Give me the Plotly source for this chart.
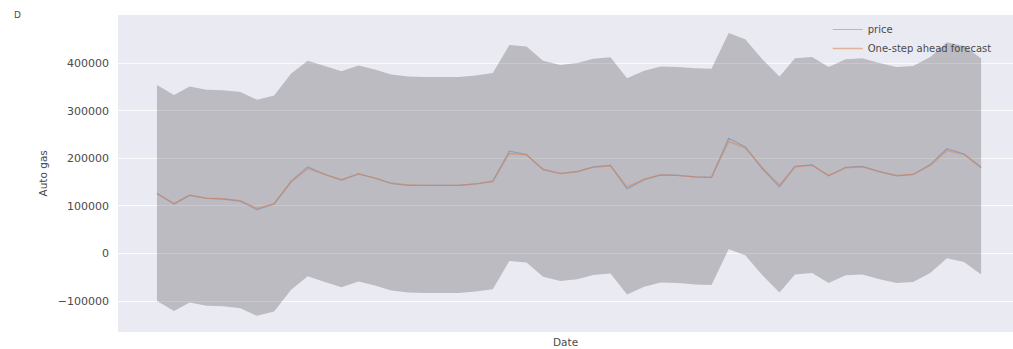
import pandas as pd
import plotly.graph_objects as go

# Monthly observation dates (axis labels are not shown)
dates = pd.date_range("2014-01-01", periods=50, freq="MS")

# One-step ahead forecast (predicted mean)
forecast = [126000, 105000, 123000, 116000, 115000, 111000, 95000, 104000, 150000, 178000,
            166000, 155000, 167000, 158000, 148000, 144000, 143000, 143000, 143000, 146000,
            151000, 210000, 207000, 177000, 168000, 172000, 181000, 184000, 140000, 156000,
            165000, 164000, 161000, 160000, 235000, 222000, 180000, 144000, 182000, 185000,
            164000, 180000, 182000, 172000, 164000, 166000, 185000, 216000, 208000, 182000]

# Observed price
price = [126000, 104000, 122000, 116000, 114000, 110000, 92000, 104000, 152000, 182000,
         166000, 154000, 167000, 158000, 147000, 143000, 143000, 143000, 143000, 146000,
         152000, 215000, 208000, 176000, 168000, 172000, 182000, 185000, 136000, 155000,
         165000, 164000, 161000, 160000, 242000, 224000, 178000, 140000, 183000, 186000,
         163000, 181000, 183000, 172000, 163000, 166000, 187000, 220000, 209000, 180000]

# Confidence interval bounds
ci_upper = [354000, 333000, 351000, 344000, 343000, 339000, 323000, 332000, 378000, 405000,
            394000, 383000, 395000, 386000, 376000, 372000, 371000, 371000, 371000, 374000,
            379000, 438000, 435000, 405000, 396000, 400000, 409000, 412000, 368000, 384000,
            393000, 392000, 389000, 388000, 463000, 450000, 408000, 372000, 410000, 413000,
            392000, 408000, 410000, 400000, 392000, 394000, 413000, 444000, 436000, 410000]

ci_lower = [-100000, -121000, -103000, -110000, -111000, -115000, -131000, -122000, -76000, -48000,
            -60000, -71000, -59000, -68000, -78000, -82000, -83000, -83000, -83000, -80000,
            -75000, -16000, -19000, -49000, -58000, -54000, -45000, -42000, -86000, -70000,
            -61000, -62000, -65000, -66000, 9000, -4000, -46000, -82000, -44000, -41000,
            -62000, -46000, -44000, -54000, -62000, -60000, -41000, -10000, -18000, -44000]

y_ticks = [-100000, 0, 100000, 200000, 300000, 400000]

FONT = "DejaVu Sans"
BLUE = "#4c72b0"
ORANGE = "#dd8452"
TEXT = "#4a4a4a"

fig = go.Figure()
# Confidence band first, lines drawn over it in muted tones
fig.add_trace(go.Scatter(x=dates, y=ci_lower, mode="lines", line=dict(width=0),
                         showlegend=False, hoverinfo="skip"))
fig.add_trace(go.Scatter(x=dates, y=ci_upper, mode="lines", line=dict(width=0),
                         fill="tonexty", fillcolor="rgba(0,0,0,0.2)",
                         showlegend=False, hoverinfo="skip"))
fig.add_trace(go.Scatter(x=dates, y=price, mode="lines", name="price",
                         line=dict(color=BLUE, width=1.2), opacity=0.4))
fig.add_trace(go.Scatter(x=dates, y=forecast, mode="lines", name="One-step ahead forecast",
                         line=dict(color=ORANGE, width=1.3), opacity=0.55))

step = pd.Timedelta(days=30.4)
x_range = [dates[0] - 2.32 * step, dates[-1] + 1.9 * step]

fig.update_layout(
    width=1013, height=349,
    margin=dict(l=118, r=0, t=15, b=17),
    paper_bgcolor="white",
    plot_bgcolor="#eaeaf2",
    font=dict(family=FONT, size=10, color=TEXT),
    showlegend=True,
    legend=dict(x=0.793, y=1.0, xanchor="left", yanchor="top", traceorder="normal",
                bgcolor="rgba(0,0,0,0)", font=dict(size=10, color=TEXT),
                tracegroupgap=0),
    xaxis=dict(range=x_range, showticklabels=False, showgrid=False, zeroline=False,
               ticks=""),
    yaxis=dict(range=[-165000, 501000], tickvals=y_ticks, tickformat="d",
               showgrid=True, gridcolor="rgba(255,255,255,0.8)", gridwidth=1, zeroline=False,
               ticks="", ticklabelstandoff=8, tickfont=dict(size=11, color=TEXT)),
    annotations=[
        dict(text="Date", xref="paper", yref="paper", x=0.5, y=0, yshift=-10,
             xanchor="center", yanchor="middle", showarrow=False,
             font=dict(size=10.5, color=TEXT)),
        dict(text="Auto gas", xref="paper", yref="paper", x=0, xshift=-76, y=0.5,
             textangle=-90, xanchor="center", yanchor="middle", showarrow=False,
             font=dict(size=10.5, color=TEXT)),
        dict(text="D", xref="paper", yref="paper", x=0, xshift=-106, y=1, yshift=0,
             xanchor="left", yanchor="middle", showarrow=False,
             font=dict(size=9, color=TEXT)),
    ],
)

fig.write_html("out.html")
